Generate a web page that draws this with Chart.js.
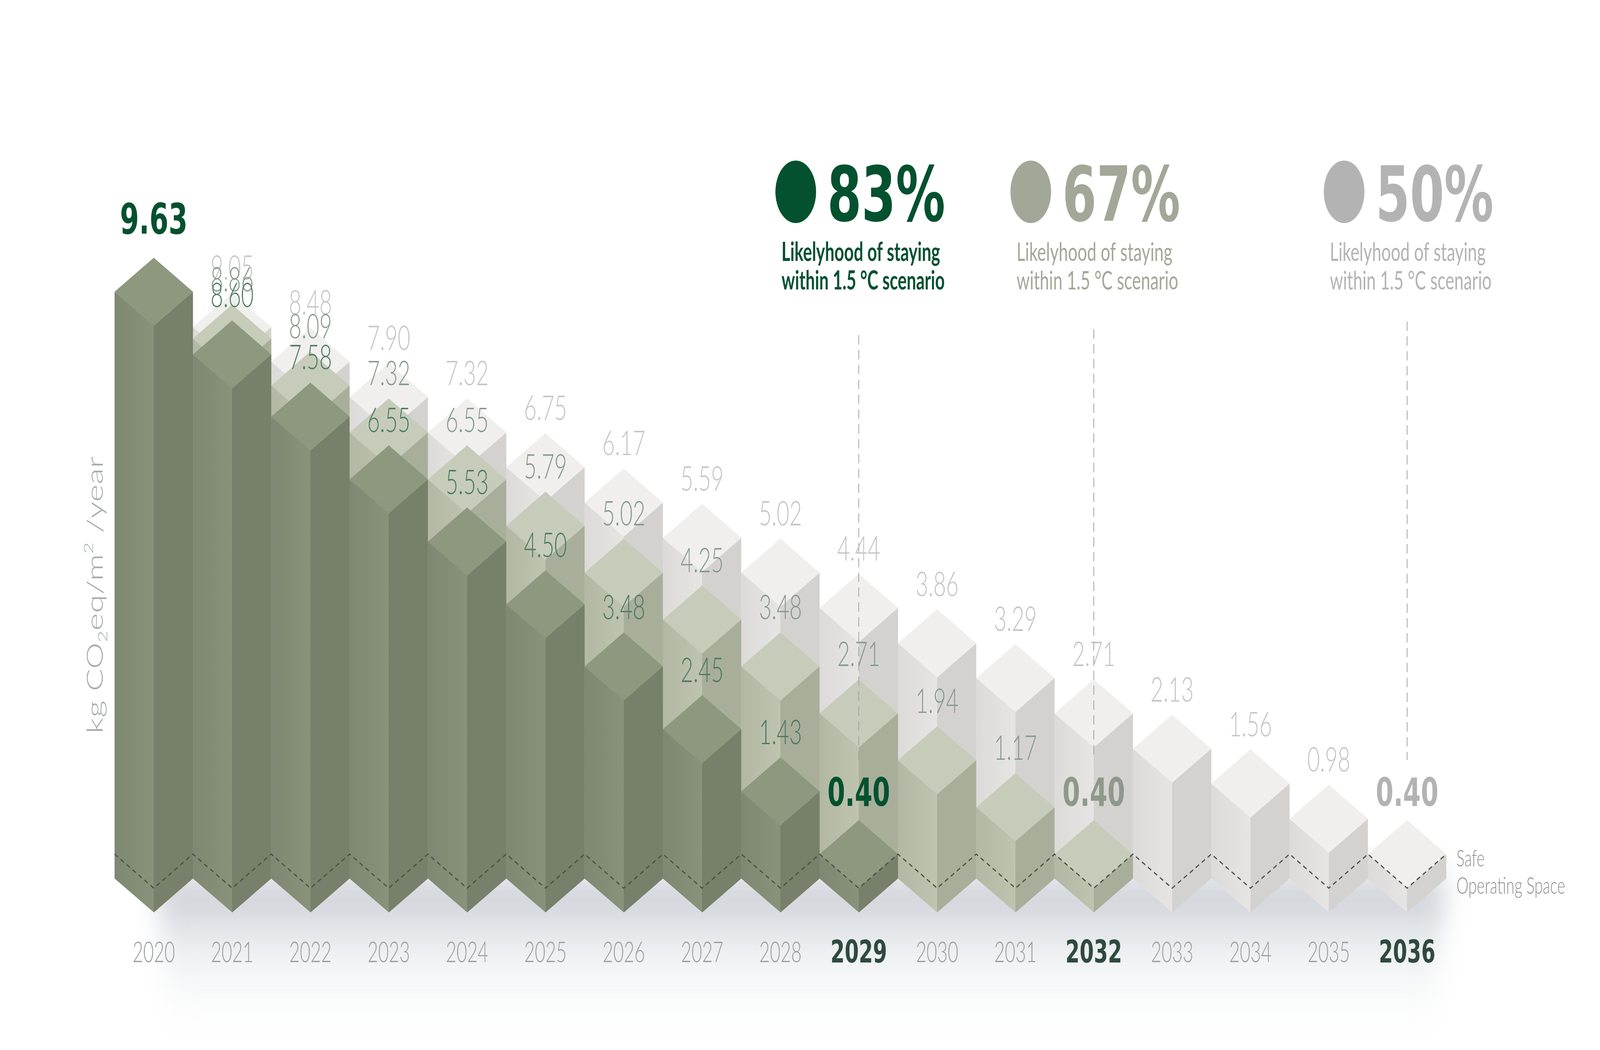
<!DOCTYPE html>
<html>
<head>
<meta charset="utf-8">
<script src="https://cdn.jsdelivr.net/npm/chart.js@4.4.1/dist/chart.umd.min.js"></script>
<style>
  html, body { margin: 0; padding: 0; background: #fff; overflow: hidden; }
  #wrap { width: 6297px; height: 2688px; position: absolute; left: 0; top: 0; transform-origin: 0 0; }
</style>
</head>
<body>
<div id="wrap"><canvas id="isoChart" width="6297" height="2688"></canvas></div>
<script>
// Embodied carbon pathways, kg CO2eq/m2/year
const years = ['2020', '2021', '2022', '2023', '2024', '2025', '2026', '2027', '2028',
               '2029', '2030', '2031', '2032', '2033', '2034', '2035', '2036'];

// likelihood scenarios, drawn back to front
const scenarioLabels = ['50%', '67%', '83%'];
const series50 = [null, 9.05, 8.48, 7.90, 7.32, 6.75, 6.17, 5.59, 5.02, 4.44, 3.86, 3.29, 2.71, 2.13, 1.56, 0.98, 0.40];
const series67 = [null, 8.86, 8.09, 7.32, 6.55, 5.79, 5.02, 4.25, 3.48, 2.71, 1.94, 1.17, 0.40, null, null, null, null];
const series83 = [9.63, 8.60, 7.58, 6.55, 5.53, 4.50, 3.48, 2.45, 1.43, 0.40, null, null, null, null, null, null, null];

const safeLevel = 0.40;
const yMax = 12;

const subLines = ['Likelyhood of staying', 'within 1.5 °C scenario'];
const safeLines = ['Safe', 'Operating Space'];

const FONT = 'Lato, "Noto Sans", sans-serif';
const BOLD = '"DejaVu Sans", Lato, sans-serif';

// the drawing is laid out at 6297x2688; stretch it onto the actual window
const wrap = document.getElementById('wrap');
wrap.style.transform = `scale(${window.innerWidth / 6297}, ${window.innerHeight / 2688})`;

// face colours per scenario [50, 67, 83]
const faces = [
    { top: '#f0efed', leftA: '#dddbd9', leftB: '#e7e5e3', right: '#d4d2d0' },
    { top: '#c6ccb9', leftA: '#b2b8a4', leftB: '#bec4b0', right: '#a8ae9a' },
    { top: '#8d987f', leftA: '#7e8872', leftB: '#89937b', right: '#76806a' }
];
const labelColor = ['#c4c4c4', '#869a8d', '#4f7a64'];
const boldColor = ['#b3b3b3', '#8f988d', '#03512f'];
const headColor = ['#b3b3b3', '#a3a798', '#03512f'];
const lineTop = [823, 843, 858];

function lastIndex(arr) {
    for (let i = arr.length - 1; i >= 0; i--) if (arr[i] != null) return i;
    return -1;
}
function firstIndex(arr) {
    return arr.findIndex(v => v != null);
}

function prism(ctx, cx, w, yTop, yBase, c) {
    const d = w * 0.565;
    let g = ctx.createLinearGradient(cx - w, 0, cx, 0);
    g.addColorStop(0, c.leftA);
    g.addColorStop(1, c.leftB);
    ctx.fillStyle = g;
    ctx.beginPath();
    ctx.moveTo(cx - w, yTop);
    ctx.lineTo(cx + 0.8, yTop + d);
    ctx.lineTo(cx + 0.8, yBase + d);
    ctx.lineTo(cx - w, yBase);
    ctx.closePath();
    ctx.fill();

    ctx.fillStyle = c.right;
    ctx.beginPath();
    ctx.moveTo(cx, yTop + d);
    ctx.lineTo(cx + w, yTop);
    ctx.lineTo(cx + w, yBase);
    ctx.lineTo(cx, yBase + d);
    ctx.closePath();
    ctx.fill();

    ctx.fillStyle = c.top;
    ctx.beginPath();
    ctx.moveTo(cx, yTop - d);
    ctx.lineTo(cx + w, yTop);
    ctx.lineTo(cx, yTop + d);
    ctx.lineTo(cx - w, yTop);
    ctx.closePath();
    ctx.fill();
}

const isoPlugin = {
    id: 'iso',
    beforeDatasetsDraw(chart) {
        // soft floor shadow under the prisms
        const ctx = chart.ctx;
        const x = chart.scales.x, y = chart.scales.y;
        const base = y.getPixelForValue(0);
        const w = x.getPixelForValue(1) - x.getPixelForValue(0);
        const x0 = x.getPixelForValue(0), x1 = x.getPixelForValue(years.length - 1);
        ctx.save();
        ctx.filter = 'blur(45px)';
        const g = ctx.createLinearGradient(0, base, 0, base + 400);
        g.addColorStop(0, 'rgba(172,181,192,0.85)');
        g.addColorStop(0.25, 'rgba(198,204,211,0.6)');
        g.addColorStop(0.6, 'rgba(226,229,232,0.35)');
        g.addColorStop(1, 'rgba(242,243,244,0)');
        ctx.fillStyle = g;
        ctx.beginPath();
        ctx.moveTo(x0 + 10, base);
        ctx.lineTo(x1 + w / 2, base);
        ctx.lineTo(x1 + w / 2 - 40, base + 400);
        ctx.lineTo(x0 + 60, base + 400);
        ctx.closePath();
        ctx.fill();
        ctx.restore();
    },
    afterDatasetsDraw(chart) {
        const ctx = chart.ctx;
        const xs = chart.scales.x, ys = chart.scales.y;
        const base = ys.getPixelForValue(0);
        const data = chart.data.datasets.map(ds => ds.data);
        ctx.save();

        // prisms, tallest scenario first
        data.forEach((arr, i) => {
            chart.getDatasetMeta(i).data.forEach((bar, j) => {
                if (arr[j] == null) return;
                prism(ctx, bar.x, bar.width / 2, bar.y, base, faces[i]);
            });
        });

        const w = xs.getPixelForValue(1) - xs.getPixelForValue(0);
        const hw = w / 2;
        const d = hw * 0.565;

        // safe operating space zigzag
        const ySafe = ys.getPixelForValue(safeLevel);
        ctx.strokeStyle = '#4b5149';
        ctx.lineWidth = 3.5;
        ctx.setLineDash([15, 12]);
        ctx.beginPath();
        years.forEach((yr, j) => {
            const cx = xs.getPixelForValue(j);
            if (j === 0) ctx.moveTo(cx - hw, ySafe);
            ctx.lineTo(cx, ySafe + d);
            ctx.lineTo(cx + hw, ySafe);
        });
        ctx.stroke();

        // vertical guides to the target year of each scenario
        ctx.strokeStyle = '#a2a2a2';
        ctx.lineWidth = 3;
        ctx.setLineDash([24, 14]);
        data.forEach((arr, i) => {
            const j = lastIndex(arr);
            const cx = xs.getPixelForValue(j);
            const yEnd = ys.getPixelForValue(arr[j]) - d - 35 - 74 - 45;
            ctx.beginPath();
            ctx.moveTo(cx, lineTop[i]);
            ctx.lineTo(cx, yEnd);
            ctx.stroke();
        });
        ctx.setLineDash([]);

        // value labels
        ctx.textAlign = 'center';
        ctx.textBaseline = 'alphabetic';
        data.forEach((arr, i) => {
            const last = lastIndex(arr);
            const first = firstIndex(arr);
            arr.forEach((v, j) => {
                if (v == null) return;
                const cx = xs.getPixelForValue(j);
                const apex = ys.getPixelForValue(v) - d;
                if (i === 2 && j === first) {
                    ctx.font = `700 108px ${BOLD}`;
                    ctx.fillStyle = boldColor[i];
                    ctx.fillText(v.toFixed(2), cx, apex - 62);
                } else if (j === last) {
                    ctx.font = `700 100px ${BOLD}`;
                    ctx.fillStyle = boldColor[i];
                    ctx.fillText(v.toFixed(2), cx, apex - 37);
                } else {
                    ctx.font = `300 86px ${FONT}`;
                    ctx.fillStyle = labelColor[i];
                    ctx.fillText(v.toFixed(2), cx, apex - 34);
                }
            });
        });

        // year labels
        const targets = data.map(lastIndex);
        years.forEach((yr, j) => {
            const cx = xs.getPixelForValue(j);
            if (targets.includes(j)) {
                ctx.font = `700 80px ${BOLD}`;
                ctx.fillStyle = '#2f4a3d';
                ctx.fillText(yr, cx, 2464);
            } else {
                ctx.font = `300 72px ${FONT}`;
                ctx.fillStyle = '#999f9b';
                ctx.fillText(yr, cx, 2463);
            }
        });

        // scenario headers, anchored on the target year
        ctx.textAlign = 'left';
        data.forEach((arr, i) => {
            const cx = xs.getPixelForValue(lastIndex(arr));
            ctx.fillStyle = headColor[i];
            ctx.beginPath();
            ctx.arc(cx - 248, 491, 80, 0, Math.PI * 2);
            ctx.fill();
            ctx.font = `700 194px ${BOLD}`;
            ctx.fillText(scenarioLabels[i], cx - 124, 565);
            ctx.font = `${i === 2 ? 700 : 400} 66px ${FONT}`;
            ctx.fillText(subLines[0], cx - 304, 668);
            ctx.fillText(subLines[1], cx - 304, 741);
        });

        // safe operating space note
        const xLast = xs.getPixelForValue(years.length - 1);
        ctx.font = `300 60px ${FONT}`;
        ctx.fillStyle = '#8e8e8e';
        ctx.fillText(safeLines[0], xLast + hw + 40, ySafe + 31);
        ctx.fillText(safeLines[1], xLast + hw + 40, ySafe + 101);

        // y-axis title, rotated
        ctx.translate(374, 1523);
        ctx.rotate(-Math.PI / 2);
        const parts = [
            { t: 'kg CO', size: 86, dy: 0 },
            { t: '2', size: 52, dy: 18 },
            { t: 'eq/m', size: 86, dy: 0 },
            { t: '2', size: 52, dy: -38 },
            { t: ' /year', size: 86, dy: 0 }
        ];
        let total = 0;
        parts.forEach(p => {
            ctx.font = `300 ${p.size}px ${FONT}`;
            p.w = ctx.measureText(p.t).width;
            total += p.w;
        });
        let px = -total / 2;
        ctx.fillStyle = '#a3aba6';
        parts.forEach(p => {
            ctx.font = `300 ${p.size}px ${FONT}`;
            ctx.fillText(p.t, px, 30 + p.dy);
            px += p.w;
        });
        ctx.restore();
    }
};

new Chart(document.getElementById('isoChart'), {
    type: 'bar',
    data: {
        labels: years,
        datasets: [
            { label: scenarioLabels[0], data: series50 },
            { label: scenarioLabels[1], data: series67 },
            { label: scenarioLabels[2], data: series83 }
        ].map(ds => ({
            ...ds,
            backgroundColor: 'rgba(0,0,0,0)',
            borderWidth: 0,
            grouped: false,
            categoryPercentage: 1,
            barPercentage: 1
        }))
    },
    options: {
        responsive: false,
        devicePixelRatio: 1,
        animation: false,
        layout: { padding: { left: 451, right: 605, top: 377, bottom: 439 } },
        plugins: { legend: { display: false }, tooltip: { enabled: false } },
        scales: {
            x: { display: false, offset: true },
            y: { display: false, min: 0, max: yMax }
        }
    },
    plugins: [isoPlugin]
});
</script>
</body>
</html>
